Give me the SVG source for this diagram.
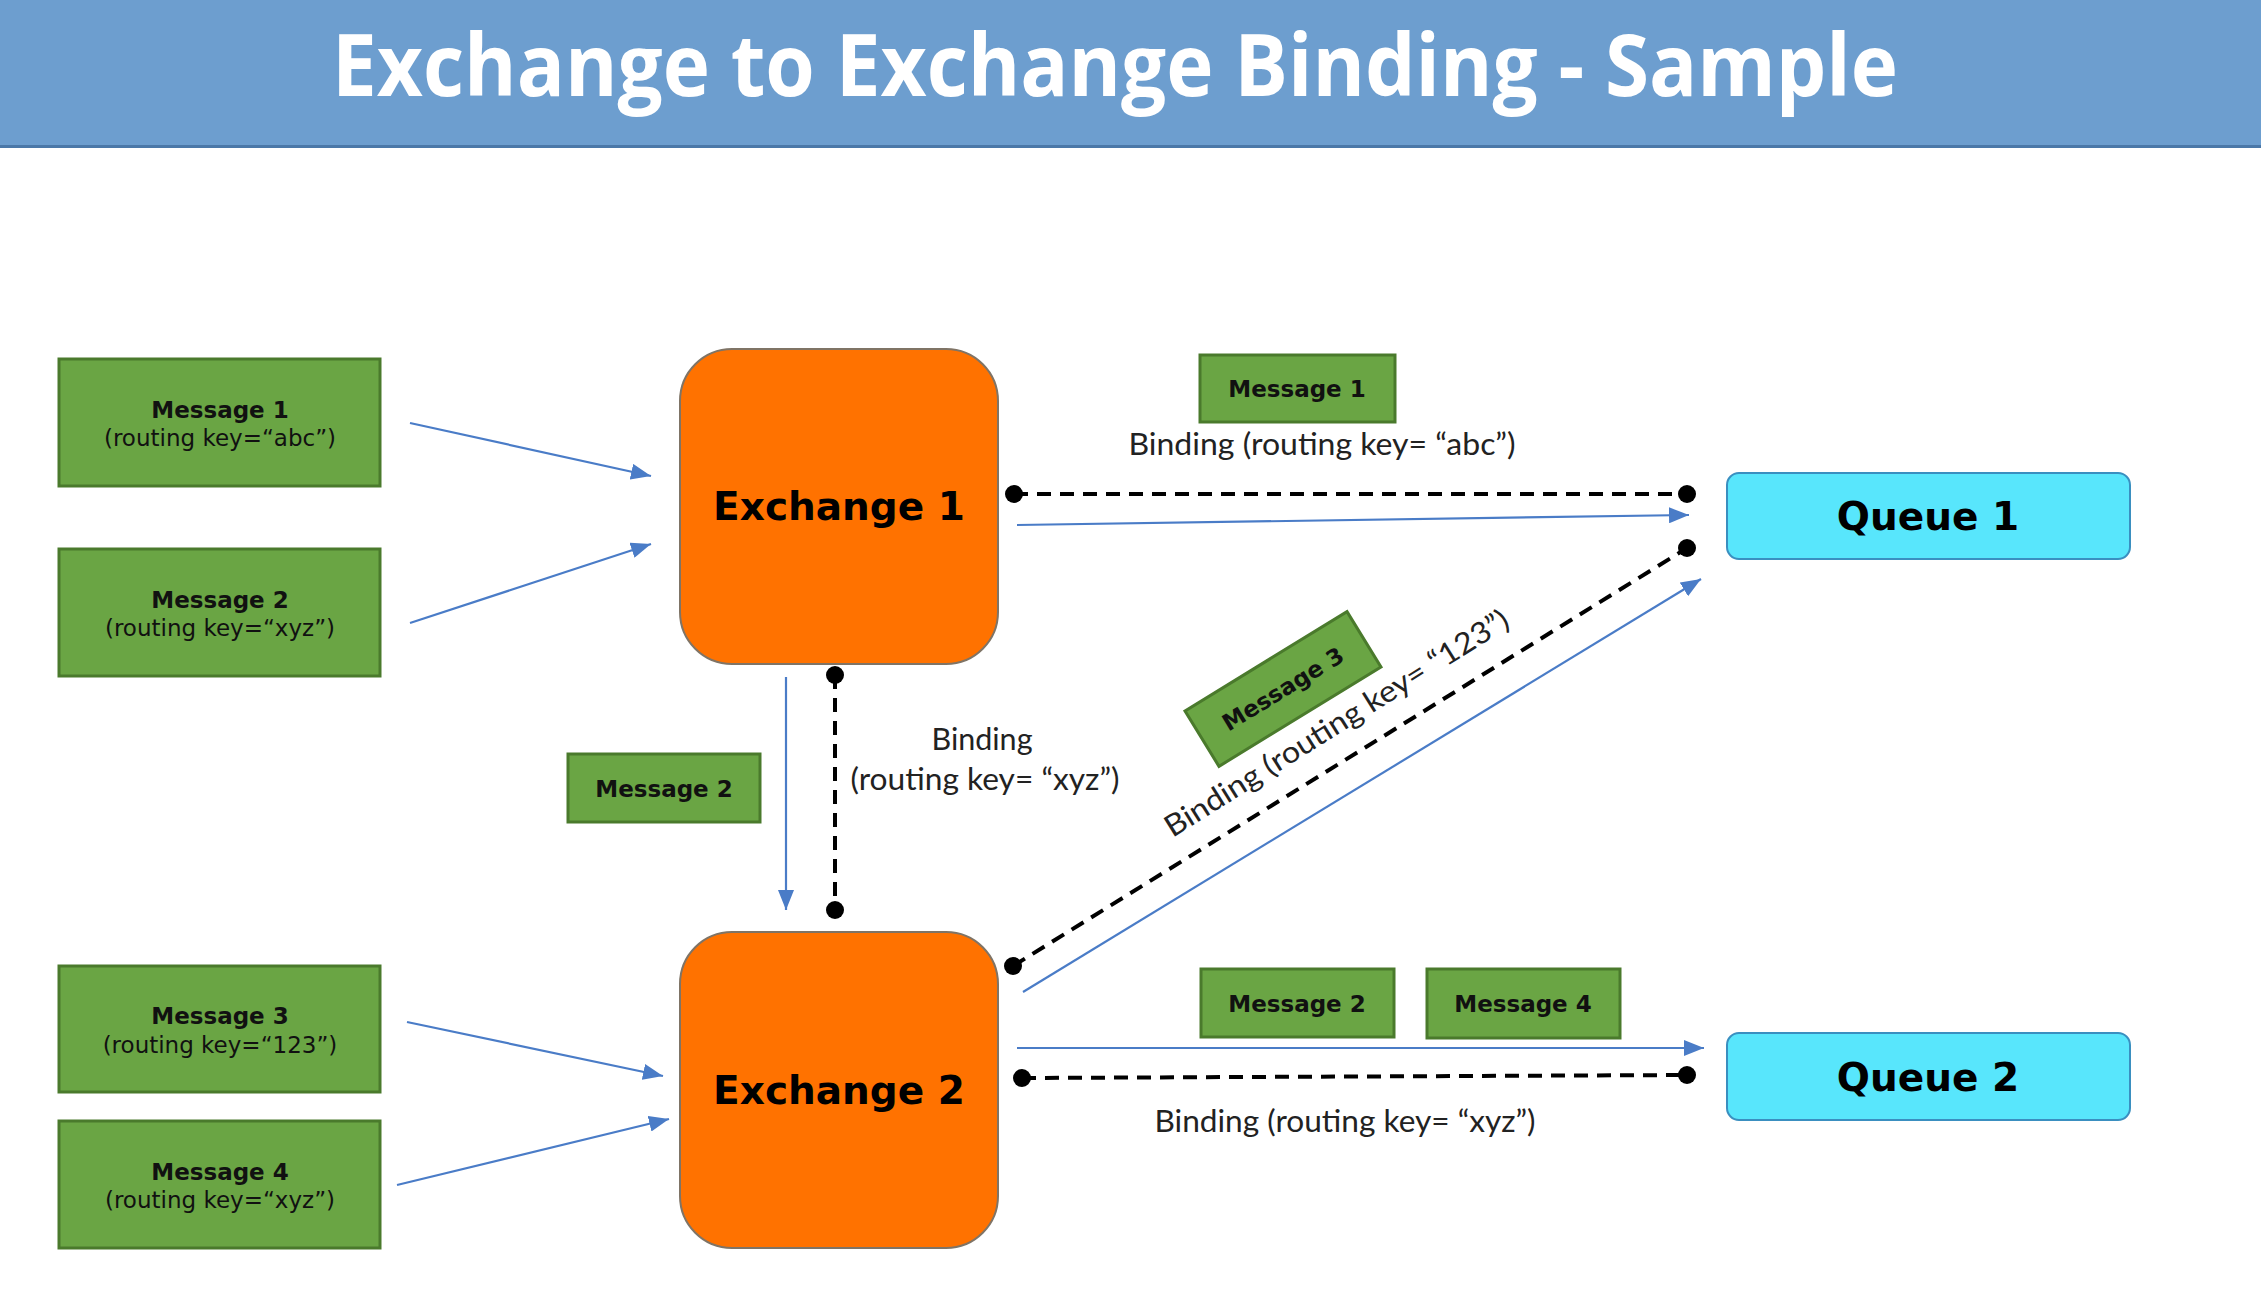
<svg xmlns="http://www.w3.org/2000/svg" width="2261" height="1305" viewBox="0 0 2261 1305">
<style>
.msg{fill:#6aa544;stroke:#4a7a2c;stroke-width:3}
.exch{fill:#ff7200;stroke:#7f7466;stroke-width:2}
.queue{fill:#58e6fc;stroke:#3a8fc0;stroke-width:2}
.mt{font-family:"DejaVu Sans",Verdana,sans-serif;font-weight:bold;font-size:23px;fill:#111;text-anchor:middle}
.mk{font-family:"DejaVu Sans",Verdana,sans-serif;font-size:23px;fill:#111;text-anchor:middle}
.big{font-family:"DejaVu Sans",Verdana,sans-serif;font-weight:bold;font-size:39px;fill:#000;text-anchor:middle}
.bt{font-family:Lato,"Open Sans",sans-serif;font-size:30px;fill:#222;text-anchor:middle}
.flow{stroke:#4a7cc7;stroke-width:2.2;fill:none}
.bind{stroke:#000;stroke-width:4;stroke-dasharray:14 9;fill:none}
.dot{fill:#000}
</style>
<defs>
<marker id="arr" markerUnits="userSpaceOnUse" markerWidth="22" markerHeight="16" refX="20" refY="8" orient="auto">
<path d="M0,0 L20,8 L0,16 z" fill="#4a7cc7"/>
</marker>
</defs>
<rect width="2261" height="1305" fill="#fff"/>
<g id="header">
<rect x="0" y="0" width="2261" height="147" fill="#6d9ecf"/>
<rect x="0" y="145" width="2261" height="3" fill="#4b78a8"/>
<text x="1115" y="96" font-family="'Open Sans',sans-serif" font-weight="bold" font-size="86" fill="#fff" text-anchor="middle" textLength="1566" lengthAdjust="spacingAndGlyphs">Exchange to Exchange Binding - Sample</text>
</g>
<g id="msg1">
<rect class="msg" x="59" y="359" width="321" height="127"/>
<text class="mt" x="220" y="418">Message 1</text>
<text class="mk" x="220" y="446">(routing key=“abc”)</text>
</g>
<g id="msg2">
<rect class="msg" x="59" y="549" width="321" height="127"/>
<text class="mt" x="220" y="608">Message 2</text>
<text class="mk" x="220" y="636">(routing key=“xyz”)</text>
</g>
<g id="msg3">
<rect class="msg" x="59" y="966" width="321" height="126"/>
<text class="mt" x="220" y="1024">Message 3</text>
<text class="mk" x="220" y="1053">(routing key=“123”)</text>
</g>
<g id="msg4">
<rect class="msg" x="59" y="1121" width="321" height="127"/>
<text class="mt" x="220" y="1180">Message 4</text>
<text class="mk" x="220" y="1208">(routing key=“xyz”)</text>
</g>
<g id="exchange1">
<rect class="exch" x="680" y="349" width="318" height="315" rx="52"/>
<text class="big" x="839" y="520">Exchange 1</text>
</g>
<g id="exchange2">
<rect class="exch" x="680" y="932" width="318" height="316" rx="52"/>
<text class="big" x="839" y="1104">Exchange 2</text>
</g>
<g id="queue1">
<rect class="queue" x="1727" y="473" width="403" height="86" rx="12"/>
<text class="big" x="1928" y="530">Queue 1</text>
</g>
<g id="queue2">
<rect class="queue" x="1727" y="1033" width="403" height="87" rx="12"/>
<text class="big" x="1928" y="1091">Queue 2</text>
</g>
<g id="connectors">
<line class="flow" x1="410" y1="423" x2="651" y2="476" marker-end="url(#arr)"/>
<line class="flow" x1="410" y1="623" x2="651" y2="544" marker-end="url(#arr)"/>
<line class="flow" x1="407" y1="1022" x2="663" y2="1076" marker-end="url(#arr)"/>
<line class="flow" x1="397" y1="1185" x2="669" y2="1119" marker-end="url(#arr)"/>
<line class="flow" x1="1017" y1="525" x2="1689" y2="515" marker-end="url(#arr)"/>
<line class="flow" x1="1023" y1="992" x2="1701" y2="579" marker-end="url(#arr)"/>
<line class="flow" x1="786" y1="677" x2="786" y2="910" marker-end="url(#arr)"/>
<line class="flow" x1="1017" y1="1048" x2="1704" y2="1048" marker-end="url(#arr)"/>
<line class="bind" x1="1014" y1="494" x2="1687" y2="494"/>
<circle class="dot" cx="1014" cy="494" r="9"/>
<circle class="dot" cx="1687" cy="494" r="9"/>
<line class="bind" x1="1013" y1="966" x2="1687" y2="548"/>
<circle class="dot" cx="1013" cy="966" r="9"/>
<circle class="dot" cx="1687" cy="548" r="9"/>
<line class="bind" x1="835" y1="675" x2="835" y2="910"/>
<circle class="dot" cx="835" cy="675" r="9"/>
<circle class="dot" cx="835" cy="910" r="9"/>
<line class="bind" x1="1022" y1="1078" x2="1687" y2="1075"/>
<circle class="dot" cx="1022" cy="1078" r="9"/>
<circle class="dot" cx="1687" cy="1075" r="9"/>
</g>
<g id="label-top">
<rect class="msg" x="1200" y="355" width="195" height="67"/>
<text class="mt" x="1297" y="397">Message 1</text>
<text class="bt" x="1322" y="455" textLength="387" lengthAdjust="spacingAndGlyphs">Binding (routing key= “abc”)</text>
</g>
<g id="label-mid">
<rect class="msg" x="568" y="754" width="192" height="68"/>
<text class="mt" x="664" y="797">Message 2</text>
<text class="bt" x="982" y="750" textLength="101" lengthAdjust="spacingAndGlyphs">Binding</text>
<text class="bt" x="985" y="790" textLength="269" lengthAdjust="spacingAndGlyphs">(routing key= “xyz”)</text>
</g>
<g id="label-diag" transform="translate(1283,689) rotate(-31.5)">
<rect class="msg" x="-95" y="-32.5" width="190" height="65"/>
<text class="mt" x="0" y="8">Message 3</text>
</g>
<g id="label-diag-text" transform="translate(1342,732) rotate(-32)">
<text class="bt" x="0" y="0" font-size="31" textLength="400" lengthAdjust="spacingAndGlyphs">Binding (routing key= “123”)</text>
</g>
<g id="label-bottom">
<rect class="msg" x="1201" y="969" width="193" height="68"/>
<text class="mt" x="1297" y="1012">Message 2</text>
<rect class="msg" x="1427" y="969" width="193" height="69"/>
<text class="mt" x="1523" y="1012">Message 4</text>
<text class="bt" x="1345" y="1132" textLength="381" lengthAdjust="spacingAndGlyphs">Binding (routing key= “xyz”)</text>
</g>
</svg>
